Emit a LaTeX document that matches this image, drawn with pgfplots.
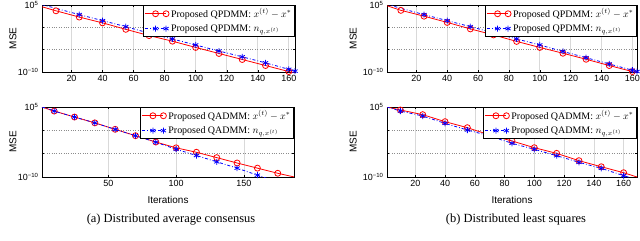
\documentclass[border=0pt]{standalone}
\usepackage{fontspec}
\setmainfont{Liberation Serif}
\newfontfamily\arial{Liberation Sans}
\usepackage{pgfplots}
\pgfplotsset{compat=1.18}
\definecolor{mred}{RGB}{255,0,0}
\definecolor{mblue}{RGB}{0,0,255}
\pgfplotsset{every axis/.append style={
  scale only axis,
  ymin=1e-10, ymax=1e5,
  ytick={1e-10,1e-5,1,1e5},
  yticklabels={10\textsuperscript{−10},,,10\textsuperscript{5}},
  xmajorgrids, ymajorgrids,
  major x grid style={black!15, line width=0.6pt},
  major y grid style={black!45, dotted, line width=0.5pt},
  tick align=inside,
  major tick length=2bp,
  tick style={black, line width=0.4pt},
  axis line style={black, line width=1pt},
  ticklabel style={font=\arial\fontsize{9}{10}\selectfont},
  label style={font=\arial\fontsize{10}{11}\selectfont},
  legend style={at={(1,1)}, anchor=north east, draw=black, line width=0.8pt, fill=white,
    font=\fontsize{10}{11}\selectfont, inner sep=1.2pt, row sep=1.5bp, cells={anchor=west}},
  legend image code/.code={\draw[mark repeat=2,mark phase=2] plot coordinates {(0bp,0bp) (10.5bp,0bp) (21bp,0bp)};},
}}
\begin{document}
\begin{tikzpicture}
\useasboundingbox (0,0) rectangle (640bp,-241bp);
% ---------- (a) top: QPDMM
\begin{semilogyaxis}[at={(42bp,-72bp)}, anchor=south west, width=253bp, height=67bp,
  xmin=1, xmax=164, xtick={20,40,60,80,100,120,140,160},
  xticklabels={20,40,60,80,100,120,140,160},
  ylabel={MSE}, ylabel style={at={(axis description cs:-0.115,0.5)}, anchor=center}]
\addplot[color=mred, line width=0.8pt, solid, mark=o, mark size=3bp, mark indices={2,3,4,5,6,7,8,9,10,11,12}] coordinates {
 (1,3.98e4) (10,5.01e3) (25,2.00e2) (40,1.0e1) (55,3.55e-1) (70,1.41e-2) (85,7.94e-4)
 (100,3.16e-5) (115,1.41e-6) (130,6.31e-8) (145,2.82e-9) (160,1.26e-10) (164,5.6e-11)};
\addlegendentry{Proposed QPDMM: $x^{(t)}-x^{*}$}
\addplot[color=mblue, line width=0.8pt, dashdotted, mark=asterisk, mark size=3bp, mark options={solid}, mark indices={2,3,4,5,6,7,8,9,10,11,12}] coordinates {
 (1,1.26e5) (10,1.78e4) (25,7.08e2) (40,3.16e1) (55,1.41) (70,5.01e-2) (85,2.51e-3)
 (100,1.12e-4) (115,5.01e-6) (130,2.51e-7) (145,1.12e-8) (160,3.98e-10) (164,1.58e-10)};
\addlegendentry{Proposed QPDMM: $n_{q,x^{(t)}}$}
\end{semilogyaxis}
% ---------- (a) bottom: QADMM
\begin{semilogyaxis}[at={(42bp,-177bp)}, anchor=south west, width=252bp, height=70bp,
  xmin=1, xmax=187, xtick={50,100,150}, xticklabels={50,100,150},
  ylabel={MSE}, ylabel style={at={(axis description cs:-0.115,0.5)}, anchor=center},
  xlabel={Iterations}, xlabel style={at={(axis description cs:0.5,0)}, anchor=center, yshift=-23bp}]
\addplot[color=mred, line width=0.8pt, solid, mark=o, mark size=3bp, mark indices={2,3,4,5,6,7,8,9,10,11,12,13}] coordinates {
 (1,1e5) (10,1.35e4) (25,7.08e2) (40,3.98e1) (55,1.66) (70,7.08e-2) (85,3.16e-3)
 (100,1.78e-4) (115,2.0e-5) (130,1.41e-6) (145,1.0e-7) (160,7.94e-9) (175,6.31e-10) (188,8.9e-11)};
\addlegendentry{Proposed QADMM: $x^{(t)}-x^{*}$}
\addplot[color=mblue, line width=0.8pt, dashdotted, mark=asterisk, mark size=3bp, mark options={solid}, mark indices={2,3,4,5,6,7,8,9,10,11,12}] coordinates {
 (1,1e5) (10,1.35e4) (25,7.08e2) (40,3.98e1) (55,1.58) (70,7.08e-2) (85,2.82e-3)
 (100,8.91e-5) (115,3.98e-6) (130,1.78e-7) (145,7.94e-9) (160,2.51e-10) (167,5.01e-11)};
\addlegendentry{Proposed QADMM: $n_{q,x^{(t)}}$}
\end{semilogyaxis}
% ---------- (b) top: QPDMM
\begin{semilogyaxis}[at={(387bp,-72bp)}, anchor=south west, width=250bp, height=67bp,
  xmin=1, xmax=163, xtick={20,40,60,80,100,120,140,160},
  xticklabels={20,40,60,80,100,120,140,160},
  ylabel={MSE}, ylabel style={at={(axis description cs:-0.135,0.5)}, anchor=center}]
\addplot[color=mred, line width=0.8pt, solid, mark=o, mark size=3bp, mark indices={2,3,4,5,6,7,8,9,10,11,12}] coordinates {
 (1,7.08e4) (10,6.31e3) (25,3.16e2) (40,1.26e1) (55,4.47e-1) (70,2.0e-2) (85,7.08e-4)
 (100,3.16e-5) (115,1.58e-6) (130,7.08e-8) (145,2.82e-9) (160,1.26e-10) (163,6.31e-11)};
\addlegendentry{Proposed QPDMM: $x^{(t)}-x^{*}$}
\addplot[color=mblue, line width=0.8pt, dashdotted, mark=asterisk, mark size=3bp, mark options={solid}, mark indices={2,3,4,5,6,7,8,9,10,11,12}] coordinates {
 (1,1.58e5) (10,1.78e4) (25,7.08e2) (40,3.16e1) (55,1.41) (70,6.31e-2) (85,2.51e-3)
 (100,1.12e-4) (115,3.98e-6) (130,1.58e-7) (145,6.31e-9) (160,2.51e-10) (163,1.26e-10)};
\addlegendentry{Proposed QPDMM: $n_{q,x^{(t)}}$}
\end{semilogyaxis}
% ---------- (b) bottom: QADMM
\begin{semilogyaxis}[at={(387bp,-177bp)}, anchor=south west, width=250bp, height=70bp,
  xmin=1, xmax=169, xtick={20,40,60,80,100,120,140,160},
  xticklabels={20,40,60,80,100,120,140,160},
  ylabel={MSE}, ylabel style={at={(axis description cs:-0.135,0.5)}, anchor=center},
  xlabel={Iterations}, xlabel style={at={(axis description cs:0.5,0)}, anchor=center, yshift=-23bp}]
\addplot[color=mred, line width=0.8pt, solid, mark=o, mark size=3bp, mark indices={2,3,4,5,6,7,8,9,10,11,12}] coordinates {
 (1,1e5) (10,2.29e4) (25,2.29e3) (40,7.24e1) (55,3.72) (70,1.0e-1) (85,5.25e-3)
 (100,1.91e-4) (115,1.17e-5) (130,3.16e-7) (145,1.58e-8) (160,8.32e-10) (170,8.0e-11)};
\addlegendentry{Proposed QADMM: $x^{(t)}-x^{*}$}
\addplot[color=mblue, line width=0.8pt, dashdotted, mark=asterisk, mark size=3bp, mark options={solid}, mark indices={2,3,4,5,6,7,8,9,10,11,12}] coordinates {
 (1,1e5) (10,1.38e4) (25,1.17e3) (40,3.16e1) (55,1.17) (70,6.31e-2) (85,1.66e-3)
 (100,8.71e-5) (115,3.72e-6) (130,1.41e-7) (145,7.24e-9) (160,1.95e-10) (164,8.0e-11)};
\addlegendentry{Proposed QADMM: $n_{q,x^{(t)}}$}
\end{semilogyaxis}
\node[font=\fontsize{12.5}{14}\selectfont] at (171bp,-220bp) {(a) Distributed average consensus};
\node[font=\fontsize{12.5}{14}\selectfont] at (516bp,-220bp) {(b) Distributed least squares};
\end{tikzpicture}
\end{document}
